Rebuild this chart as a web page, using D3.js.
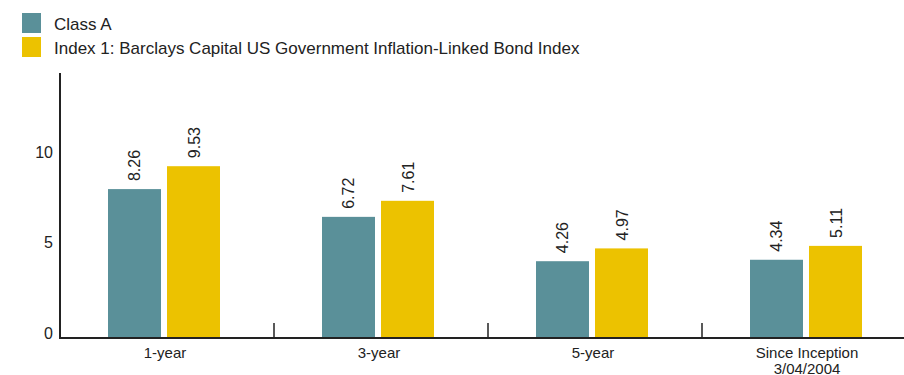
<!DOCTYPE html>
<html>
<head>
  <title>Class A vs Index 1</title>
  <script src="https://d3js.org/d3.v7.min.js"></script>
  <style>
    body { margin: 0; background: #fff; }
    text { font-family: "Liberation Sans", Arial, sans-serif; fill: #222; }
  </style>
</head>
<body>

<div id="chart"></div>

<script>
// Data
const categories = ["1-year", "3-year", "5-year", "Since Inception\n3/04/2004"];
const seriesNames = ["Class A", "Index 1: Barclays Capital US Government Inflation-Linked Bond Index"];
const classA = [8.26, 6.72, 4.26, 4.34];
const index1 = [9.53, 7.61, 4.97, 5.11];
const yTicks = [0, 5, 10];
const colors = ["#5a9099", "#ecc200"];

const width = 904, height = 375;
const marginLeft = 60, baseline = 338, axisTop = 73;

const svg = d3.select("#chart")
  .append("svg")
  .attr("width", width)
  .attr("height", height);

const x0 = d3.scaleBand()
  .domain(categories)
  .range([marginLeft, marginLeft + 4 * 214]);

const x1 = d3.scaleBand()
  .domain(seriesNames)
  .range([48, 160])
  .paddingInner(0.102);

const y = d3.scaleLinear()
  .domain([0, 14.7])
  .range([baseline, axisTop]);

const rows = categories.map((c, i) => ({ cat: c, values: [classA[i], index1[i]] }));

// bars
const groups = svg.selectAll("g.grp")
  .data(rows)
  .enter().append("g")
  .attr("class", "grp")
  .attr("transform", d => `translate(${x0(d.cat)},0)`);

groups.selectAll("rect")
  .data(d => d.values.map((v, j) => ({ v, s: seriesNames[j], j })))
  .enter().append("rect")
  .attr("x", d => x1(d.s))
  .attr("y", d => y(d.v))
  .attr("width", x1.bandwidth())
  .attr("height", d => baseline - y(d.v))
  .attr("fill", d => colors[d.j]);

// value labels, rotated
groups.selectAll("text.val")
  .data(d => d.values.map((v, j) => ({ v, s: seriesNames[j], j })))
  .enter().append("text")
  .attr("class", "val")
  .attr("transform", d => `translate(${x1(d.s) + x1.bandwidth() / 2 + 6},${y(d.v) - 8}) rotate(-90)`)
  .attr("font-size", 16)
  .text(d => d.v.toFixed(2));

// y axis
svg.append("line")
  .attr("x1", marginLeft).attr("x2", marginLeft)
  .attr("y1", axisTop).attr("y2", baseline)
  .attr("stroke", "#222").attr("stroke-width", 2);

svg.selectAll("text.ytick")
  .data(yTicks)
  .enter().append("text")
  .attr("class", "ytick")
  .attr("x", 53)
  .attr("y", d => y(d) + 0.5)
  .attr("text-anchor", "end")
  .attr("font-size", 16)
  .text(d => d);

// x axis
svg.append("line")
  .attr("x1", marginLeft - 1).attr("x2", width)
  .attr("y1", baseline).attr("y2", baseline)
  .attr("stroke", "#222").attr("stroke-width", 2);

svg.selectAll("line.xtick")
  .data(categories.slice(1))
  .enter().append("line")
  .attr("class", "xtick")
  .attr("x1", d => x0(d)).attr("x2", d => x0(d))
  .attr("y1", baseline - 15).attr("y2", baseline)
  .attr("stroke", "#222").attr("stroke-width", 1.5);

svg.selectAll("text.xlab")
  .data(categories)
  .enter().append("text")
  .attr("class", "xlab")
  .attr("text-anchor", "middle")
  .attr("font-size", 15)
  .each(function(d) {
    const lines = d.split("\n");
    lines.forEach((l, i) => {
      d3.select(this).append("tspan")
        .attr("x", x0(d) + x0.bandwidth() / 2 - 2)
        .attr("y", 357.5 + i * 16)
        .text(l);
    });
  });

// legend
const legend = svg.selectAll("g.leg")
  .data(seriesNames)
  .enter().append("g")
  .attr("class", "leg")
  .attr("transform", (d, i) => `translate(22,${13 + i * 24})`);

legend.append("rect")
  .attr("width", 19).attr("height", 20)
  .attr("fill", (d, i) => colors[i]);

legend.append("text")
  .attr("x", 32).attr("y", 16.5)
  .attr("font-size", 17)
  .text(d => d);
</script>

</body>
</html>
